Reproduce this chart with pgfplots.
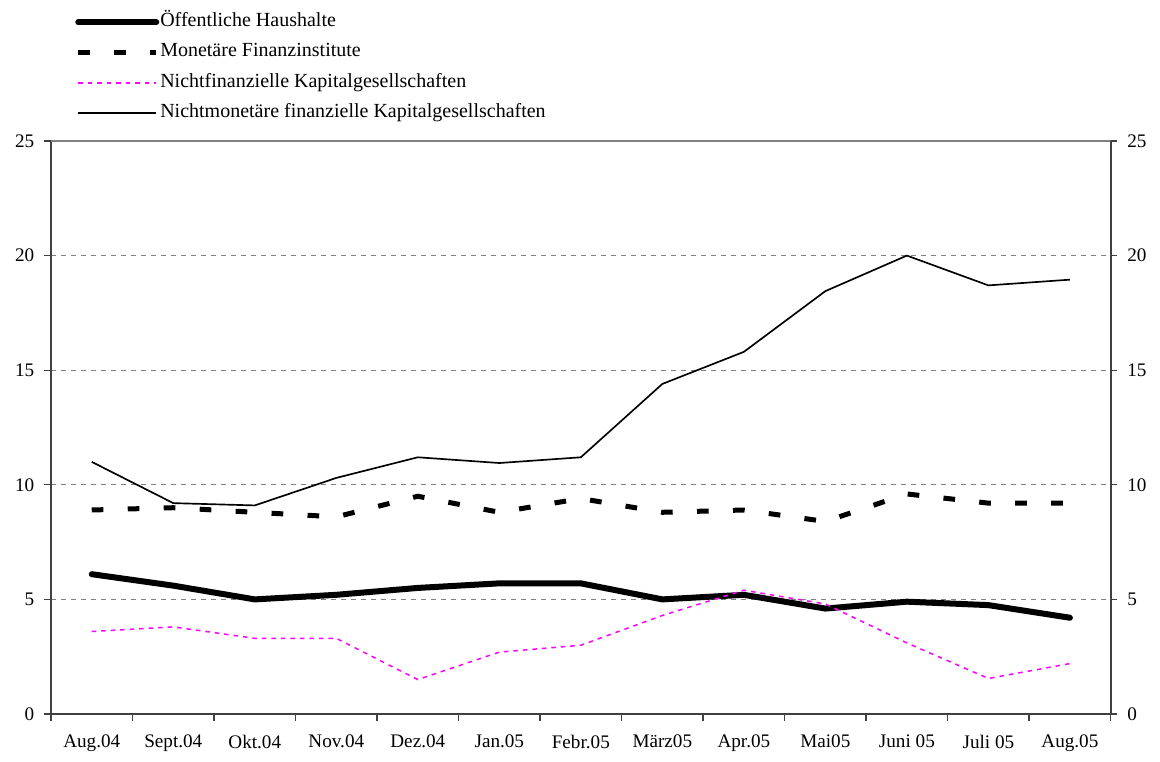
\documentclass[border=0pt]{standalone}
\usepackage{fontspec}
\setmainfont{Liberation Serif}
\usepackage{pgfplots}
\pgfplotsset{compat=1.18}
\definecolor{axgray}{HTML}{404040}
\definecolor{gridgray}{HTML}{808080}
\definecolor{magentaline}{HTML}{FF00FF}
\begin{document}
\begin{tikzpicture}
\pgfplotsset{
  common/.style={
    scale only axis, width=635.8pt, height=343.8pt,
    xmin=-0.5, xmax=12.5, ymin=0, ymax=25,
    ytick={0,5,10,15,20,25}, yticklabels={0,5,10,15,20,25},
    tick align=outside,
    major tick length=4pt,
    tick style={axgray, line width=0.8pt},
    axis line style={axgray, line width=1pt},
    ticklabel style={font=\fontsize{11.5}{13}\selectfont},
  }
}
\begin{axis}[common,
  axis x line*=bottom, axis y line*=left,
  xtick={-0.5,0.5,...,12.5}, xticklabels={{},{},{},{},{},{},{},{},{},{},{},{},{},{}},
  extra x ticks={0,1,2,3,4,5,6,7,8,9,10,11,12},
  extra x tick labels={Aug.04,Sept.04,Okt.04,Nov.04,Dez.04,Jan.05,Febr.05,M\"arz05,Apr.05,Mai05,Juni 05,Juli 05,Aug.05},
  extra x tick style={major tick length=0pt, grid=none, xticklabel style={yshift=-9pt}},
  yticklabel style={xshift=-2.5pt},
  ymajorgrids, grid style={gridgray, dash pattern=on 3pt off 3pt, line width=0.6pt},
  legend image code/.code={\draw[#1] (0pt,0pt) -- (46.8pt,0pt);},
  legend cell align=left,
  legend style={draw=none, fill=none, at={(0.0226,1.2208)}, anchor=north west,
    inner sep=0pt, row sep=9.2pt,
    nodes={inner sep=0pt, font=\fontsize{12}{14}\selectfont, text height=7pt, text depth=2pt},
    /tikz/every odd column/.append style={column sep=0.6pt}},
]
\addplot[black, line width=3.6pt, line cap=round, line join=round] coordinates {(0,6.1)(1,5.6)(2,5.0)(3,5.2)(4,5.5)(5,5.7)(6,5.7)(7,5.0)(8,5.2)(9,4.6)(10,4.9)(11,4.75)(12,4.2)};
\addlegendentry{Öffentliche Haushalte}
\addplot[black, line width=3pt, dash pattern=on 7pt off 14.6pt] coordinates {(0,8.9)(1,9.0)(2,8.8)(3,8.6)(4,9.5)(5,8.8)(6,9.4)(7,8.8)(8,8.9)(9,8.4)(10,9.6)(11,9.2)(12,9.2)};
\addlegendentry{Monetäre Finanzinstitute}
\addplot[magentaline, line width=0.9pt, dash pattern=on 2.7pt off 3pt] coordinates {(0,3.6)(1,3.8)(2,3.3)(3,3.3)(4,1.5)(5,2.7)(6,3.0)(7,4.3)(8,5.4)(9,4.8)(10,3.1)(11,1.55)(12,2.2)};
\addlegendentry{Nichtfinanzielle Kapitalgesellschaften}
\addplot[black, line width=1pt, line join=round] coordinates {(0,11.0)(1,9.2)(2,9.1)(3,10.3)(4,11.2)(5,10.95)(6,11.2)(7,14.4)(8,15.8)(9,18.45)(10,20.0)(11,18.7)(12,18.95)};
\addlegendentry{Nichtmonetäre finanzielle Kapitalgesellschaften}
\end{axis}
\begin{axis}[common,
  axis x line*=top, axis y line*=right,
  xtick=\empty,
  x axis line style={gridgray, line width=1pt},
  yticklabel style={xshift=2.5pt},
]
\end{axis}
\pgfresetboundingbox
\path[use as bounding box] ([xshift=-30.6pt,yshift=-28.8pt]current axis.south west) rectangle ([xshift=29.6pt,yshift=84.6pt]current axis.north east);
\end{tikzpicture}
\end{document}
